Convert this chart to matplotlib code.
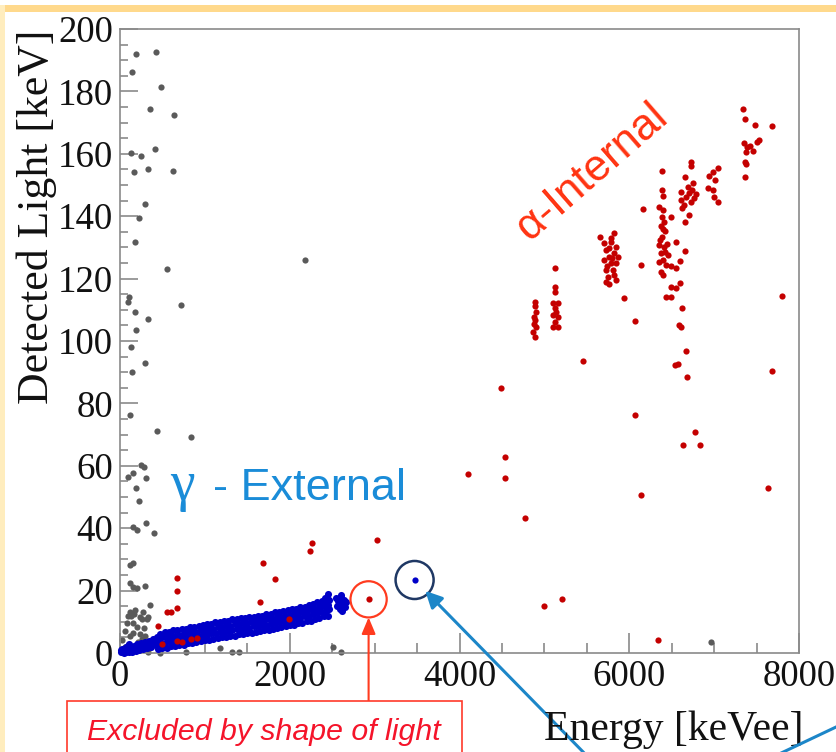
import numpy as np
import matplotlib
matplotlib.use("Agg")
import matplotlib.pyplot as plt
from matplotlib.lines import Line2D
from matplotlib.patches import Rectangle
from matplotlib.ticker import MultipleLocator

# ---------------- data: energy [keVee], detected light [keV] ----------------
# events rejected as noise / pile-up (grey)
gray_x = [188, 424, 145, 478, 353, 631, 133, 247, 412, 161, 333, 624, 298, 227, 180,
          557, 110, 90, 722, 172, 325, 184, 2176, 133, 290, 137, 122, 431, 839,
          247, 286, 98, 157, 306, 192, 227, 157, 200, 310, 404, 122, 149, 114, 204,
          290, 114, 349, 125, 82, 153, 255, 329, 200, 286, 118, 294, 20, 60, 230,
          170, 270, 100, 210, 176, 314, 90, 230, 150, 260, 60, 320, 157,
          333, 470, 776, 1184, 1314, 1400, 2510, 2608, 6961]
gray_y = [191.9, 192.5, 186.3, 181.4, 174.4, 172.5, 160.4, 159.3, 161.5, 154.1, 155.0,
          154.5, 143.9, 139.3, 131.7, 123.0, 114.2, 112.6, 111.4, 109.3, 107.0, 103.4,
          126.0, 98.1, 92.8, 90.2, 76.3, 71.0, 69.1, 60.3, 59.7, 56.5, 57.6, 56.0, 52.9,
          48.7, 40.5, 39.3, 41.6, 38.6, 28.2, 29.0, 22.3, 20.9, 21.5, 13.2, 15.4, 11.9,
          9.7, 9.5, 10.8, 11.4, 8.2, 7.9, 5.4, 5.4, 4.2, 7.0, 6.0, 12.5, 13.0, 2.5, 3.5,
          13.8, 10.9, 12.0, 11.5, 6.5, 4.5, 2.0, 3.0, 21.3,
          0.2, 0.1, 0.2, 1.7, 0.3, 0.3, 2.0, 0.4, 3.6]

# alpha events (red)
red_x = [7341, 7365, 7482, 7678, 7353, 7392, 7463, 7510, 7529, 7373, 7365, 7375, 7365, 7420,
         6729, 6729, 7047, 6992, 6941, 7008, 6930, 6988, 7000, 7051,
         6659, 6753, 6745, 6706, 6784, 6667, 6608, 6726, 6620, 6706, 6655, 6612, 6690, 6760, 6640,
         6384, 6384, 6392, 6353, 6157, 6384, 6412, 6373, 6424, 6384, 6490, 6345, 6412, 6373,
         6451, 6353, 6431, 6490, 6549, 6373, 6392, 6549, 6659, 6600, 6600, 6490, 6556, 6431,
         6490, 6620, 6588, 6608, 6674, 6580, 6541, 6686, 6400, 6365, 6420, 6400, 6440, 6395,
         5655, 5824, 5706, 5784, 5843, 5726, 5824, 5765, 5863, 5706, 5784, 5843, 5726, 5804,
         5745, 5843, 5726, 5765, 5800, 5760, 5820, 5790, 5740,
         6137, 6067, 5933, 7804, 5459, 7686,
         5122, 5122, 5122, 5098, 5157, 5130, 5138, 5098, 5157, 5098, 5157, 5125,
         4890, 4890, 4902, 4882, 4895, 4882, 4900, 4870, 4894,
         4490, 6063, 6769, 6631, 6839, 4541, 4098, 4541, 7632, 6133, 4776, 4992, 5208, 6337,
         3031, 2267, 2235, 1686, 1824, 667, 667, 667, 549, 596, 451, 1647, 1992, 490, 667,
         725, 831, 902]
red_y = [174.4, 171.1, 169.2, 168.9, 163.4, 162.1, 160.9, 163.9, 164.4, 160.7, 157.5, 156.7,
         152.7, 162.5,
         157.5, 156.1, 155.5, 154.3, 152.9, 151.6, 149.0, 148.4, 146.2, 144.6,
         152.5, 150.5, 148.4, 147.3, 147.1, 146.0, 145.2, 144.7, 142.5, 140.4, 138.3, 147.9,
         149.5, 145.8, 143.5,
         154.6, 148.4, 146.5, 143.1, 142.3, 139.9, 138.3, 136.7, 135.1, 133.4, 139.9, 130.8,
         130.2, 128.1, 127.6, 125.4, 124.4, 123.9, 123.3, 122.2, 121.2, 131.8, 128.8, 125.7,
         118.5, 117.4, 116.9, 114.2, 114.0, 110.7, 105.1, 104.4, 96.8, 92.6, 92.3, 88.6,
         136.0, 132.5, 128.5, 126.0, 131.0, 142.0,
         133.4, 134.5, 131.3, 131.8, 130.2, 129.2, 128.1, 127.0, 127.0, 126.0, 124.9, 124.9,
         122.8, 122.8, 120.6, 119.6, 119.0, 118.3, 126.5, 129.8, 121.0, 133.0, 124.0,
         124.4, 106.5, 113.9, 114.4, 93.7, 90.5,
         123.5, 117.4, 115.8, 112.1, 112.1, 110.5, 109.4, 108.3, 107.8, 104.4, 104.4, 106.0,
         112.4, 111.2, 109.4, 107.8, 106.7, 105.6, 104.4, 103.0, 101.2,
         84.8, 76.4, 70.9, 66.8, 66.8, 62.8, 57.4, 56.2, 53.0, 50.5, 43.4, 15.1, 17.2, 4.2,
         36.2, 35.4, 32.8, 28.9, 23.7, 24.0, 20.0, 14.5, 13.0, 13.0, 8.8, 16.4, 10.8, 2.8,
         3.8, 3.6, 4.6, 4.9]

# event excluded by the shape of the light pulse
excl_x, excl_y = 2929, 17.2

# gamma events (blue): low-energy cluster near the origin
gamma_x0 = [10, 15, 25, 30, 45, 55, 65, 70, 80, 95, 105, 110, 120, 130, 145, 160, 170,
            185, 200, 215, 225, 245, 260, 275, 290, 305, 320, 340, 355, 370, 390, 405,
            420, 435]
gamma_y0 = [0.9, 0.2, 1.4, 0.6, 0.1, 1.0, 2.0, 0.4, 1.5, 0.8, 0.2, 2.9, 1.9, 1.1, 0.4,
            2.4, 1.5, 0.7, 2.8, 1.9, 1.0, 3.2, 2.3, 1.3, 3.6, 2.6, 1.7, 4.0, 3.0, 2.0,
            4.4, 3.4, 2.5, 5.0]

# gamma band, lower and upper halves
gamma_xa = [450, 500, 550, 600, 650, 700, 750, 800, 850, 900, 950, 1000, 1050, 1100,
            1150, 1200, 1250, 1300, 1350, 1400, 1450, 1500, 1550, 1600, 1650, 1700, 1750,
            1800, 1850, 1900, 1950, 2000, 2050, 2100, 2150, 2200, 2250, 2300, 2350, 2400,
            2450]
gamma_ya1 = [1.4, 1.6, 1.7, 2.1, 2.2, 2.6, 2.7, 3.1, 3.2, 3.6, 3.7, 4.2, 4.2, 4.6, 4.7,
             5.1, 5.2, 5.6, 5.6, 6.0, 6.0, 6.4, 6.4, 6.8, 6.9, 7.3, 7.4, 7.8, 7.9, 8.4,
             8.5, 8.9, 9.0, 9.5, 9.7, 10.2, 10.4, 11.0, 11.2, 11.8, 11.9]
gamma_ya2 = [4.5, 5.0, 5.1, 5.5, 5.6, 5.9, 6.2, 6.3, 6.7, 6.8, 7.3, 7.4, 7.8, 7.8, 8.2,
             8.3, 8.7, 8.8, 9.2, 9.2, 9.6, 9.6, 10.0, 10.0, 10.4, 10.5, 10.9, 11.0, 11.5,
             11.6, 12.0, 12.1, 12.6, 12.7, 13.2, 13.4, 14.0, 14.2, 14.8, 15.0, 15.5]
gamma_xb = [475, 525, 575, 625, 675, 725, 775, 825, 875, 925, 975, 1025, 1075, 1125,
            1175, 1225, 1275, 1325, 1375, 1425, 1475, 1525, 1575, 1625, 1675, 1725, 1775,
            1825, 1875, 1925, 1975, 2025, 2075, 2125, 2175, 2225, 2275, 2325, 2375, 2425,
            2465]
gamma_yb1 = [3.2, 3.3, 3.8, 3.8, 4.2, 4.3, 4.7, 4.8, 5.2, 5.3, 5.8, 5.9, 6.3, 6.3, 6.7,
             6.8, 7.2, 7.3, 7.7, 7.7, 8.1, 8.1, 8.5, 8.5, 8.9, 9.0, 9.4, 9.5, 10.0, 10.1,
             10.5, 10.6, 11.1, 11.2, 11.7, 11.9, 12.5, 12.7, 13.3, 13.5, 14.0]
gamma_yb2 = [6.2, 6.8, 6.8, 7.3, 7.3, 7.8, 7.8, 8.3, 8.3, 8.8, 8.9, 9.4, 9.4, 9.8, 9.8,
             10.3, 10.3, 10.8, 10.8, 11.2, 11.2, 11.6, 11.6, 12.0, 12.0, 12.5, 12.6, 13.0,
             13.1, 13.6, 13.7, 14.1, 14.2, 14.7, 14.9, 15.4, 15.7, 16.2, 16.4, 17.0, 17.1]
# high-energy end of the gamma band
gamma_x3 = [2454, 2420, 2380, 2440, 2560, 2570, 2590, 2600, 2620, 2640, 2650, 2660, 2600,
            2580, 2545, 2610]
gamma_y3 = [18.9, 17.6, 16.8, 17.3, 15.0, 16.8, 14.2, 17.9, 15.6, 17.0, 14.6, 16.2, 18.5,
            16.0, 17.6, 13.6]

# isolated gamma-like event
lone_x, lone_y = 3471, 23.4

x_ticks = [0, 2000, 4000, 6000, 8000]
y_ticks = [0, 20, 40, 60, 80, 100, 120, 140, 160, 180, 200]

# ---------------- figure ----------------
W, H = 836, 752
fig = plt.figure(figsize=(W / 100, H / 100), dpi=100)
fig.patch.set_facecolor("white")

# slide frame
fig.add_artist(Rectangle((0, 0), 5, H - 5, transform=None, facecolor="#FFEDBE",
                         edgecolor="none", zorder=0))
fig.add_artist(Rectangle((5, H - 12), W - 5, 7, transform=None, facecolor="#FFD98C",
                         edgecolor="none", zorder=0))

ax = fig.add_axes([120 / W, 99 / H, 679 / W, 624 / H])
ax.set_xlim(0, 8000)
ax.set_ylim(0, 200)

mk = 20
gx = np.concatenate([gamma_x0, gamma_xa, gamma_xa, gamma_xb, gamma_xb, gamma_x3])
gy = np.concatenate([gamma_y0, gamma_ya1, gamma_ya2, gamma_yb1, gamma_yb2, gamma_y3])
ax.scatter(gray_x, gray_y, s=mk, color="#5a5a5a", linewidths=0, zorder=2, clip_on=False)
ax.scatter(gx, gy, s=26, color="#0000C8", linewidths=0, zorder=3, clip_on=False)
ax.scatter([lone_x], [lone_y], s=mk, color="#0000C8", linewidths=0, zorder=3)
ax.scatter(red_x, red_y, s=mk, color="#C40000", linewidths=0, zorder=4, clip_on=False)
ax.scatter([excl_x], [excl_y], s=mk, color="#C40000", linewidths=0, zorder=4)

# highlight circles
ax.scatter([excl_x], [excl_y], s=680, facecolors="none", edgecolors="#FF3B1F",
           linewidths=1.6, zorder=5)
ax.scatter([lone_x], [lone_y], s=750, facecolors="none", edgecolors="#1F3864",
           linewidths=1.8, zorder=5)

# axes styling
spine_c = "#8a8a8a"
for side in ["left", "right", "top", "bottom"]:
    ax.spines[side].set_color(spine_c)
    ax.spines[side].set_linewidth(1.2)
ax.set_xticks(x_ticks)
ax.set_yticks(y_ticks)
ax.xaxis.set_minor_locator(MultipleLocator(500))
ax.yaxis.set_minor_locator(MultipleLocator(5))
ax.tick_params(which="both", direction="in", top=False, right=False, color=spine_c,
               width=1.2)
ax.tick_params(axis="y", which="major", length=13, pad=5)
ax.tick_params(axis="y", which="minor", length=6)
ax.tick_params(axis="x", which="major", length=14.4, pad=5)
ax.tick_params(axis="x", which="minor", length=7.2)
for lab in ax.get_xticklabels() + ax.get_yticklabels():
    lab.set_fontfamily("Liberation Serif")
    lab.set_fontsize(26.5)
    lab.set_color("#111111")

# axis titles
fig.text(37, H - 30, "Detected Light [keV]", transform=None, rotation=90,
         ha="center", va="top", fontsize=31.5, family="Liberation Serif", color="#111111")
fig.text(803, 12, "Energy [keVee]", transform=None, ha="right", va="baseline",
         fontsize=30, family="Liberation Serif", color="#111111")

# population labels
ax.text(5560, 154, "α-Internal", rotation=41, rotation_mode="anchor", ha="center",
        va="center", fontsize=31.5, family="Liberation Sans", color="#FF3311")
ax.text(589, 49, "γ", ha="left", va="baseline", fontsize=40,
        family="Liberation Serif", color="#1A8CD8")
ax.text(1095, 49, "- External", ha="left", va="baseline", fontsize=32.5,
        family="Liberation Sans", color="#1A8CD8")

# excluded-event callout
fig.add_artist(Rectangle((67, -10), 395, 61, transform=None, facecolor="white",
                         edgecolor="#FF3A2A", linewidth=1.2, zorder=6))
fig.text(87, 12, "Excluded by shape of light", transform=None, ha="left",
         va="baseline", fontsize=21.8, style="italic", family="Liberation Sans",
         color="#F5142A", zorder=7)
ax.annotate("", xy=(excl_x, excl_y), xycoords="data",
            xytext=(excl_x, 51), textcoords=("data", "figure pixels"),
            arrowprops=dict(arrowstyle="-|>,head_length=1.0,head_width=0.42",
                            color="#FF3B1F", lw=1.5, shrinkA=0, shrinkB=13),
            annotation_clip=False, zorder=6)

# pointer to the isolated gamma event
ax.annotate("", xy=(lone_x, lone_y), xycoords="data",
            xytext=(591, -8), textcoords="figure pixels",
            arrowprops=dict(arrowstyle="-|>,head_length=1.0,head_width=0.5",
                            color="#1C86C8", lw=2.2, shrinkA=0, shrinkB=11),
            annotation_clip=False, zorder=6)
fig.add_artist(Line2D([777, 846], [-3, 29.7], transform=None, color="#1C86C8",
                      linewidth=2.2, zorder=6))

fig.savefig("out.png", dpi=100, facecolor="white")
